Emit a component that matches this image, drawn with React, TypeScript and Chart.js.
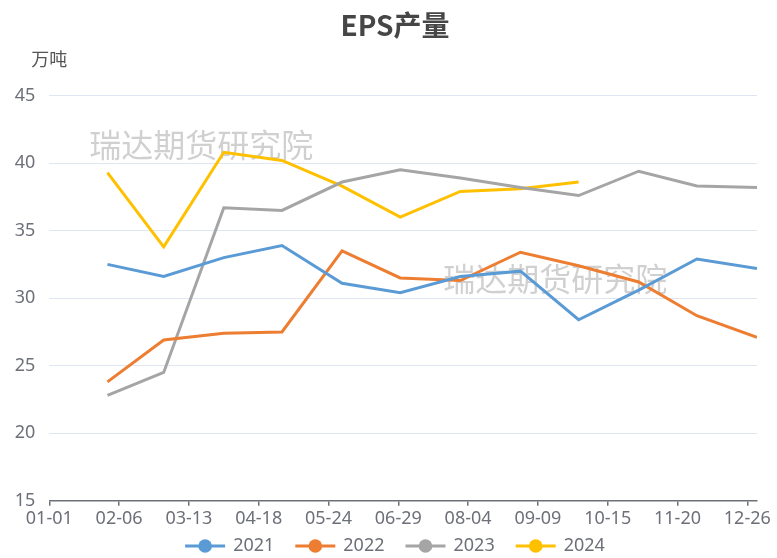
import React, { useEffect, useRef } from "react";
import { Chart, registerables } from "chart.js";

Chart.register(...registerables);

// ---- data ----
const BASE_YEAR = 2024;
const pointDates = ["01-31", "02-29", "03-31", "04-30", "05-31", "06-30", "07-31", "08-31", "09-30", "10-31", "11-30", "12-31"];
const xTickLabels = ["01-01", "02-06", "03-13", "04-18", "05-24", "06-29", "08-04", "09-09", "10-15", "11-20", "12-26"];
const xStartDate = "01-01";
const xEndDate = "12-31";
const yMin = 15;
const yMax = 45;
const yStep = 5;

const seriesNames = ["2021", "2022", "2023", "2024"];
const seriesColors = ["#5B9BD5", "#ED7D31", "#A5A5A5", "#FFC000"];
const values2021 = [32.5, 31.6, 33.0, 33.9, 31.1, 30.4, 31.6, 32.0, 28.4, 30.6, 32.9, 32.2];
const values2022 = [23.8, 26.9, 27.4, 27.5, 33.5, 31.5, 31.3, 33.4, 32.4, 31.2, 28.7, 27.1];
const values2023 = [22.8, 24.5, 36.7, 36.5, 38.6, 39.5, 38.9, 38.2, 37.6, 39.4, 38.3, 38.2];
const values2024 = [39.3, 33.8, 40.8, 40.2, 38.3, 36.0, 37.9, 38.1, 38.6];

const titleText = "EPS产量";
const unitText = "万吨";
const watermarkText = "瑞达期货研究院";

const FONT = '"Noto Sans", "Noto Sans CJK SC", sans-serif';
const CJK_FONT = '"Noto Sans CJK SC", "Noto Sans", sans-serif';
const LABEL_COLOR = "#6E7079";

function dayOfYear(md: string): number {
  const [m, d] = md.split("-").map(Number);
  return Math.round((Date.UTC(BASE_YEAR, m - 1, d) - Date.UTC(BASE_YEAR, 0, 1)) / 86400000);
}

const decorPlugin = {
  id: "decor",
  beforeDatasetsDraw(chart: any) {
    const { ctx, chartArea } = chart;
    ctx.save();
    ctx.font = `32px ${CJK_FONT}`;
    ctx.fillStyle = "rgba(150,150,150,0.45)";
    ctx.textAlign = "center";
    ctx.textBaseline = "middle";
    ctx.fillText(watermarkText, chartArea.left + 152, chartArea.top + 49);
    ctx.fillText(watermarkText, chartArea.left + 506, chartArea.top + 183);
    ctx.restore();
  },
  afterDraw(chart: any) {
    const { ctx, chartArea } = chart;
    ctx.save();
    // axis unit name
    ctx.font = `18px ${CJK_FONT}`;
    ctx.fillStyle = "#555";
    ctx.textAlign = "center";
    ctx.textBaseline = "middle";
    ctx.fillText(unitText, chartArea.left, chartArea.top - 36);

    // legend: line + circle icon, then label
    const iconW = 40;
    const iconGap = 8;
    const itemGap = 21;
    const cy = 546;
    ctx.font = `18px ${FONT}`;
    const items = chart.data.datasets.map((ds: any) => ({
      text: ds.label,
      color: ds.borderColor,
      w: ctx.measureText(ds.label).width,
    }));
    const total =
      items.reduce((s: number, it: any) => s + iconW + iconGap + it.w, 0) + itemGap * (items.length - 1);
    let x = 395 - total / 2;
    items.forEach((it: any) => {
      ctx.strokeStyle = it.color;
      ctx.lineWidth = 3;
      ctx.beginPath();
      ctx.moveTo(x, cy);
      ctx.lineTo(x + iconW, cy);
      ctx.stroke();
      ctx.fillStyle = it.color;
      ctx.beginPath();
      ctx.arc(x + iconW / 2, cy, 6.8, 0, Math.PI * 2);
      ctx.fill();
      ctx.fillStyle = LABEL_COLOR;
      ctx.textAlign = "left";
      ctx.fillText(it.text, x + iconW + iconGap, cy);
      x += iconW + iconGap + it.w + itemGap;
    });
    ctx.restore();
  },
};

export default function App() {
  const ref = useRef<HTMLCanvasElement | null>(null);

  useEffect(() => {
    if (!ref.current) return;
    const xs = pointDates.map(dayOfYear);
    const tickDays = xTickLabels.map(dayOfYear);
    const allSeries = [values2021, values2022, values2023, values2024];
    const datasets = allSeries.map((vals, i) => ({
      label: seriesNames[i],
      data: vals.map((v, j) => ({ x: xs[j], y: v })),
      borderColor: seriesColors[i],
      backgroundColor: seriesColors[i],
      borderWidth: 3,
      pointRadius: 0,
      pointHoverRadius: 0,
      tension: 0,
      fill: false,
    }));

    const chart = new Chart(ref.current, {
      type: "line",
      data: { datasets },
      plugins: [decorPlugin],
      options: {
        animation: false,
        responsive: false,
        layout: { padding: { left: 13, right: 0, top: 0, bottom: 25.3 } },
        plugins: {
          tooltip: { enabled: false },
          title: {
            display: true,
            text: titleText,
            color: "#464646",
            font: { family: CJK_FONT, size: 28, weight: "bold" },
            padding: { top: 9, bottom: 53 },
          },
          legend: { display: false },
        },
        scales: {
          x: {
            type: "linear",
            min: dayOfYear(xStartDate),
            max: dayOfYear(xEndDate),
            afterBuildTicks: (scale: any) => {
              scale.ticks = tickDays.map((v) => ({ value: v }));
            },
            afterFit: (scale: any) => {
              scale.height = 32;
            },
            ticks: {
              autoSkip: false,
              maxRotation: 0,
              color: LABEL_COLOR,
              font: { family: FONT, size: 18 },
              padding: 2,
              callback: (v: any) => {
                const idx = tickDays.indexOf(Number(v));
                return idx >= 0 ? xTickLabels[idx] : "";
              },
            },
            grid: {
              drawOnChartArea: false,
              drawTicks: true,
              tickLength: 5,
              color: LABEL_COLOR,
              lineWidth: 1.5,
            },
            border: { display: true, color: LABEL_COLOR, width: 1.5 },
          },
          y: {
            type: "linear",
            position: "left",
            min: yMin,
            max: yMax,
            afterFit: (scale: any) => {
              scale.width = 36.3;
            },
            ticks: {
              stepSize: yStep,
              color: LABEL_COLOR,
              font: { family: FONT, size: 18 },
              padding: 14,
            },
            grid: { drawTicks: false, color: "#E0E6F1", lineWidth: 1 },
            border: { display: false },
          },
          yRight: {
            type: "linear",
            position: "right",
            display: true,
            afterFit: (scale: any) => {
              scale.width = 20;
            },
            ticks: { display: false },
            grid: { display: false, drawTicks: false },
            border: { display: false },
          },
        },
      } as any,
    });
    return () => chart.destroy();
  }, []);

  return (
    <div style={{ position: "absolute", left: 0, top: 0, width: 777, height: 558, background: "#fff" }}>
      <canvas ref={ref} width={777} height={558} style={{ display: "block" }} />
    </div>
  );
}
